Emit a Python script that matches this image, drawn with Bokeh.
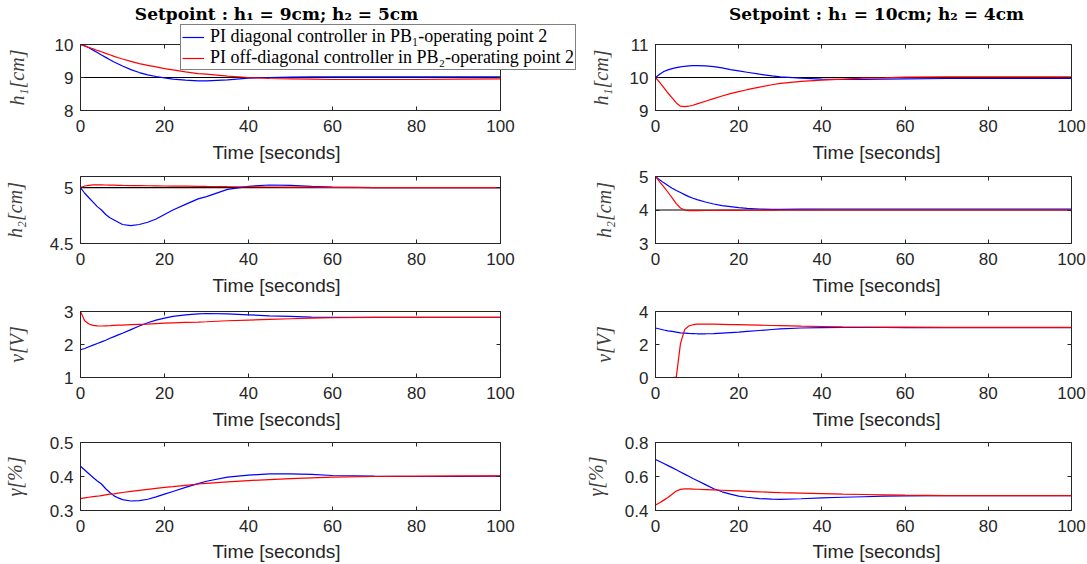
from bokeh.plotting import figure
from bokeh.models import (Range1d, LinearAxis, FixedTicker, Legend, LegendItem, Span,
                          CustomJSTickFormatter, Label, GridBox)
from bokeh.layouts import row, column
from bokeh.embed import file_html
from bokeh.resources import INLINE

# ---------------- data ----------------
T = [0, 1, 2, 3, 4, 5, 6, 7, 8, 9, 10, 12, 14, 16, 18, 20, 22, 25, 28, 30,
     35, 40, 45, 50, 55, 60, 70, 80, 90, 100]

# Left column: setpoint h1 = 9 cm, h2 = 5 cm
L_H1_BLUE = [10.0, 9.96, 9.90, 9.83, 9.76, 9.68, 9.61, 9.54, 9.47, 9.41, 9.35, 9.24, 9.15, 9.08,
             9.03, 8.99, 8.95, 8.92, 8.90, 8.90, 8.93, 8.98, 9.00, 9.01, 9.02, 9.02, 9.02, 9.02,
             9.02, 9.02]
L_H1_RED = [10.0, 9.96, 9.91, 9.87, 9.82, 9.78, 9.73, 9.69, 9.64, 9.60, 9.56, 9.49, 9.42, 9.37,
            9.32, 9.27, 9.23, 9.17, 9.12, 9.10, 9.04, 9.00, 8.97, 8.96, 8.95, 8.94, 8.94, 8.94,
            8.95, 8.96]
L_H2_BLUE = [5.0, 4.95, 4.91, 4.87, 4.83, 4.80, 4.76, 4.73, 4.71, 4.69, 4.67, 4.66, 4.67, 4.69,
             4.72, 4.76, 4.80, 4.85, 4.90, 4.92, 4.985, 5.012, 5.024, 5.02, 5.012, 5.006, 5.0,
             5.0, 5.0, 5.0]
L_H2_RED = [5.0, 5.015, 5.02, 5.025, 5.025, 5.025, 5.024, 5.023, 5.022, 5.021, 5.02, 5.019,
            5.018, 5.017, 5.016, 5.015, 5.014, 5.013, 5.012, 5.011, 5.009, 5.008, 5.006, 5.005,
            5.004, 5.003, 5.001, 5.0, 5.0, 5.0]
L_V_BLUE = [1.84, 1.88, 1.93, 1.98, 2.03, 2.08, 2.13, 2.19, 2.24, 2.29, 2.34, 2.45, 2.56, 2.66,
            2.74, 2.80, 2.85, 2.90, 2.93, 2.94, 2.93, 2.90, 2.87, 2.85, 2.83, 2.82, 2.82, 2.82,
            2.82, 2.82]
L_V_RED = [3.0, 2.72, 2.62, 2.58, 2.565, 2.56, 2.565, 2.57, 2.58, 2.585, 2.59, 2.60, 2.61, 2.62,
           2.635, 2.645, 2.655, 2.67, 2.68, 2.69, 2.72, 2.74, 2.76, 2.78, 2.80, 2.81, 2.82, 2.82,
           2.82, 2.82]
L_G_BLUE = [0.430, 0.419, 0.408, 0.397, 0.387, 0.378, 0.364, 0.353, 0.343, 0.337, 0.332, 0.328,
            0.329, 0.333, 0.340, 0.348, 0.356, 0.368, 0.379, 0.386, 0.398, 0.404, 0.408, 0.408,
            0.406, 0.403, 0.401, 0.400, 0.400, 0.401]
L_G_RED = [0.335, 0.337, 0.339, 0.341, 0.342, 0.344, 0.346, 0.348, 0.349, 0.351, 0.353, 0.356,
           0.359, 0.362, 0.365, 0.368, 0.370, 0.374, 0.378, 0.380, 0.384, 0.388, 0.391, 0.394,
           0.396, 0.398, 0.400, 0.401, 0.402, 0.402]

# Right column: setpoint h1 = 10 cm, h2 = 4 cm
R_H1_BLUE = [10.0, 10.10, 10.18, 10.23, 10.27, 10.30, 10.32, 10.34, 10.35, 10.36, 10.36, 10.35,
             10.33, 10.29, 10.24, 10.20, 10.16, 10.10, 10.05, 10.02, 9.98, 9.95, 9.94, 9.94,
             9.95, 9.96, 9.97, 9.97, 9.97, 9.97]
R_H1_RED = [10.0, 9.85, 9.69, 9.53, 9.38, 9.23, 9.13, 9.12, 9.13, 9.16, 9.20, 9.28, 9.36, 9.44,
            9.51, 9.57, 9.63, 9.71, 9.78, 9.82, 9.88, 9.92, 9.95, 9.98, 9.99, 10.01, 10.02,
            10.02, 10.02, 10.02]
R_H2_BLUE = [5.0, 4.90, 4.81, 4.73, 4.65, 4.58, 4.52, 4.46, 4.40, 4.35, 4.31, 4.24, 4.18, 4.13,
             4.10, 4.07, 4.05, 4.03, 4.02, 4.02, 4.025, 4.03, 4.03, 4.03, 4.03, 4.03, 4.03, 4.03,
             4.03, 4.03]
R_H2_RED = [5.0, 4.84, 4.69, 4.53, 4.36, 4.19, 4.06, 4.00, 3.98, 3.98, 3.98, 3.985, 3.985,
            3.987, 3.988, 3.99, 3.992, 3.995, 3.997, 4.0, 4.0, 4.0, 4.0, 4.0, 4.0, 4.0, 4.0, 4.0,
            4.0, 4.0]
R_V_BLUE = [3.0, 2.94, 2.88, 2.83, 2.79, 2.75, 2.71, 2.69, 2.67, 2.66, 2.65, 2.65, 2.66, 2.69,
            2.72, 2.75, 2.79, 2.85, 2.91, 2.95, 3.0, 3.02, 3.03, 3.03, 3.03, 3.02, 3.02, 3.02,
            3.02, 3.02]
R_V_RED = [0.0, 0.0, 0.0, 0.0, 0.0, 0.02, 2.05, 2.90, 3.12, 3.20, 3.23, 3.24, 3.23, 3.22, 3.21,
           3.20, 3.19, 3.17, 3.15, 3.14, 3.11, 3.09, 3.07, 3.06, 3.05, 3.05, 3.04, 3.04, 3.04,
           3.04]
R_G_BLUE = [0.70, 0.688, 0.676, 0.664, 0.652, 0.64, 0.627, 0.614, 0.601, 0.588, 0.576, 0.552,
            0.528, 0.51, 0.496, 0.485, 0.478, 0.47, 0.467, 0.466, 0.469, 0.474, 0.478, 0.481,
            0.484, 0.486, 0.487, 0.487, 0.487, 0.487]
R_G_RED = [0.432, 0.446, 0.461, 0.476, 0.496, 0.515, 0.524, 0.527, 0.527, 0.526, 0.525, 0.523,
           0.521, 0.519, 0.517, 0.515, 0.513, 0.510, 0.507, 0.505, 0.502, 0.499, 0.496, 0.494,
           0.492, 0.490, 0.488, 0.487, 0.487, 0.487]

SETPOINT_LEFT = [9, 5]
SETPOINT_RIGHT = [10, 4]

X_TICKS = [0, 20, 40, 60, 80, 100]
X_LABEL = "Time [seconds]"
Y_LABELS = ["h₁[cm]", "h₂[cm]", "v[V]", "γ[%]"]
LEFT_YRANGE = [(8, 10), (4.5, 5.1), (1, 3), (0.3, 0.5)]
LEFT_YTICKS = [[8, 9, 10], [4.5, 5], [1, 2, 3], [0.3, 0.4, 0.5]]
RIGHT_YRANGE = [(9, 11), (3, 5), (0, 4), (0.4, 0.8)]
RIGHT_YTICKS = [[9, 10, 11], [3, 4, 5], [0, 2, 4], [0.4, 0.6, 0.8]]
TITLES = ["Setpoint : h₁ = 9cm; h₂ = 5cm", "Setpoint : h₁ = 10cm; h₂ = 4cm"]
LEGEND_LABELS = ["PI diagonal controller in PB₁-operating point 2",
                 "PI off-diagonal controller in PB₂-operating point 2"]

LEFT_SERIES = [(L_H1_BLUE, L_H1_RED), (L_H2_BLUE, L_H2_RED), (L_V_BLUE, L_V_RED),
               (L_G_BLUE, L_G_RED)]
RIGHT_SERIES = [(R_H1_BLUE, R_H1_RED), (R_H2_BLUE, R_H2_RED), (R_V_BLUE, R_V_RED),
                (R_G_BLUE, R_G_RED)]

# ---------------- style / layout ----------------
AX = "#262626"
BLUE = "#0000ff"
RED = "#ff0000"
SANS = "Liberation Sans"
SERIF = "Liberation Serif"
W, H = 1087, 564

ROW_H = [167, 133, 133, 131]
ROW_TOP = [44, 9, 11, 9]
ROW_BOT = [57, 57, 56, 54]
LEFT_LAB_STANDOFF = [24, 21, 33, 21]
RIGHT_LAB_STANDOFF = [15, 21, 21, 15]
COL_CENTER = [276, 876]          # horizontal centre of titles / x labels (screen px)
XLABEL_Y = [152, 285, 419, 551]  # vertical centre of the x labels (screen px)

fmt = CustomJSTickFormatter(code="return String(Math.round(tick*1000)/1000);")
blank = CustomJSTickFormatter(code="return '';")


def make_fig(w, h, bl, br, bt, bb, yr, yticks, ylabel, lab_standoff):
    p = figure(width=w, height=h, x_range=Range1d(0, 100), y_range=Range1d(*yr),
               output_backend="svg", toolbar_location=None, title=None,
               min_border_left=bl, min_border_right=br, min_border_top=bt,
               min_border_bottom=bb)
    p.xgrid.visible = False
    p.ygrid.visible = False
    p.background_fill_color = "white"
    p.border_fill_color = "white"
    p.outline_line_color = AX
    p.outline_line_width = 1
    p.outline_line_alpha = 1

    xa = p.below[0]
    xa.ticker = FixedTicker(ticks=X_TICKS)
    ya = p.left[0]
    ya.ticker = FixedTicker(ticks=yticks)
    ya.formatter = fmt
    ya.axis_label = ylabel
    for ax in (xa, ya):
        ax.axis_line_color = AX
        ax.major_tick_line_color = AX
        ax.major_tick_in = 4
        ax.major_tick_out = 0
        ax.minor_tick_line_color = None
        ax.major_label_text_font = SANS
        ax.major_label_text_font_size = "17px"
        ax.major_label_text_color = AX
    xa.major_label_standoff = 9
    ya.major_label_standoff = 7
    ya.axis_label_standoff = lab_standoff
    ya.axis_label_text_font = SERIF
    ya.axis_label_text_font_size = "20px"
    ya.axis_label_text_font_style = "italic"
    ya.axis_label_text_color = "#404040"

    top = LinearAxis(ticker=FixedTicker(ticks=X_TICKS), formatter=blank,
                     axis_line_color=None, major_tick_line_color=AX, major_tick_in=4,
                     major_tick_out=0, minor_tick_line_color=None, major_label_standoff=0)
    right = LinearAxis(ticker=FixedTicker(ticks=yticks), formatter=blank,
                       axis_line_color=None, major_tick_line_color=AX, major_tick_in=4,
                       major_tick_out=0, minor_tick_line_color=None, major_label_standoff=0)
    p.add_layout(top, "above")
    p.add_layout(right, "right")
    return p


rows = []
for i in range(4):
    h, bt, bb = ROW_H[i], ROW_TOP[i], ROW_BOT[i]
    pl = make_fig(543, h, 80, 43, bt, bb, LEFT_YRANGE[i], LEFT_YTICKS[i], Y_LABELS[i],
                  LEFT_LAB_STANDOFF[i])
    pr = make_fig(544, h, 112, 16, bt, bb, RIGHT_YRANGE[i], RIGHT_YTICKS[i], Y_LABELS[i],
                  RIGHT_LAB_STANDOFF[i])
    if i < 2:
        pl.add_layout(Span(location=SETPOINT_LEFT[i], dimension="width", line_color="black",
                           line_width=1.2, level="underlay"))
        pr.add_layout(Span(location=SETPOINT_RIGHT[i], dimension="width", line_color="black",
                           line_width=1.2, level="underlay"))
    bl_, rl_ = LEFT_SERIES[i]
    pl.line(T, bl_, line_color=BLUE, line_width=1.2)
    pl.line(T, rl_, line_color=RED, line_width=1.2)
    br_, rr_ = RIGHT_SERIES[i]
    pr.line(T, br_, line_color=BLUE, line_width=1.2)
    pr.line(T, rr_, line_color=RED, line_width=1.2)
    rows.append(row(pl, pr))

main = column(*rows)

# ---- transparent overlay: titles, x labels and the legend that spills over the frames ----
ov = figure(width=W, height=H, x_range=Range1d(0, W), y_range=Range1d(H, 0),
            x_axis_location=None, y_axis_location=None, min_border=0,
            toolbar_location=None, output_backend="svg")
ov.xgrid.visible = False
ov.ygrid.visible = False
ov.outline_line_color = None
ov.background_fill_color = None
ov.border_fill_color = None

for txt, cx in zip(TITLES, COL_CENTER):
    ov.add_layout(Label(x=cx, y=13, text=txt, text_align="center", text_baseline="middle",
                        text_font="DejaVu Serif", text_font_style="bold",
                        text_font_size="17px", text_color="black"))
for cy in XLABEL_Y:
    for cx in COL_CENTER:
        ov.add_layout(Label(x=cx, y=cy, text=X_LABEL, text_align="center",
                            text_baseline="middle", text_font=SANS, text_font_size="19px",
                            text_color=AX))

lb = ov.line(T, L_H1_BLUE, line_color=BLUE, line_width=1.2, visible=False)
lr = ov.line(T, L_H1_RED, line_color=RED, line_width=1.2, visible=False)
legend = Legend(items=[LegendItem(label=LEGEND_LABELS[0], renderers=[lb]),
                       LegendItem(label=LEGEND_LABELS[1], renderers=[lr])],
                location=(180, H - 70), orientation="vertical")
legend.border_line_color = "black"
legend.border_line_width = 1
legend.background_fill_color = "white"
legend.background_fill_alpha = 1
legend.label_text_font = SERIF
legend.label_text_font_size = "18px"
legend.label_text_color = "black"
legend.glyph_width = 22
legend.glyph_height = 20
legend.label_height = 20
legend.label_standoff = 6
legend.spacing = 0
legend.padding = 1
legend.margin = 0
legend.click_policy = "none"
ov.add_layout(legend)

layout = GridBox(children=[(main, 0, 0), (ov, 0, 0)])
open("out.html", "w").write(file_html(layout, INLINE))
